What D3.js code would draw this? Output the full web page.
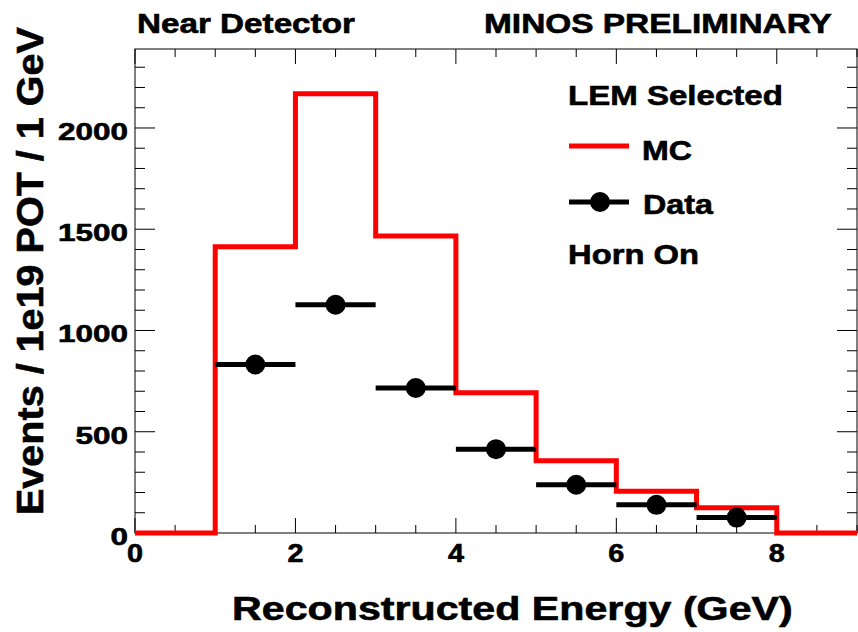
<!DOCTYPE html>
<html>
<head>
<meta charset="utf-8">
<script src="https://cdn.jsdelivr.net/npm/d3@7"></script>
<style>
  html, body { margin: 0; padding: 0; background: #fff; }
  svg { display: block; }
  text { font-family: "Liberation Sans", Arial, Helvetica, sans-serif; font-weight: bold; fill: #000;
         stroke: #000; stroke-width: 0.6px; }
</style>
</head>
<body>
<script>
// Bin edges of the reconstructed energy histogram (GeV)
const binEdges = [0, 1, 2, 3, 4, 5, 6, 7, 8, 9];
// Monte Carlo prediction per bin (events / 1e19 POT / 1 GeV)
const mcValues = [0, 1413, 2169, 1466, 693, 357, 206, 125, 0];
// Data points: bin centres and measured values
const dataX = [1.5, 2.5, 3.5, 4.5, 5.5, 6.5, 7.5];
const dataValues = [832, 1127, 716, 414, 238, 139, 76];
// Axis ticks
const xMajorTicks = [0, 2, 4, 6, 8];
const yMajorTicks = [0, 500, 1000, 1500, 2000];
const legendItems = ["MC", "Data"];

const W = 858, H = 632;
const margin = { left: 135, right: 1, top: 49, bottom: 99 };

const svg = d3.select("body").append("svg").attr("width", W).attr("height", H);

const x = d3.scaleLinear().domain([0, 9]).range([margin.left, W - margin.right]);
const y = d3.scaleLinear().domain([0, 2390]).range([H - margin.bottom, margin.top]);

const x0 = x(0), x1 = x(9), y0 = y(0), y1 = y(2390);

// Wide bold lettering: place a label at (px, py) and stretch its glyphs
// horizontally so that it spans the given width.
function label(parent, str, px, py, size, width, anchor = "start", rotate = 0) {
  const t = parent.append("text")
    .attr("font-size", size).attr("text-anchor", anchor).text(str);
  const natural = t.node().getComputedTextLength();
  const s = width / natural;
  t.attr("transform", `translate(${px},${py}) rotate(${rotate}) scale(${s},1)`);
  return t;
}

// Frame
svg.append("rect")
  .attr("x", x0).attr("y", y1).attr("width", x1 - x0).attr("height", y0 - y1)
  .attr("fill", "none").attr("stroke", "#000").attr("stroke-width", 1);

// Ticks on all four sides
const xMinor = d3.range(0, 9.001, 0.5);
const yMinor = d3.range(0, 2390, 100);
const tickG = svg.append("g").attr("stroke", "#000").attr("stroke-width", 1);
xMinor.forEach(v => {
  const major = xMajorTicks.includes(v);
  const len = major ? 15 : 8;
  tickG.append("line").attr("x1", x(v)).attr("x2", x(v)).attr("y1", y0).attr("y2", y0 - len);
  tickG.append("line").attr("x1", x(v)).attr("x2", x(v)).attr("y1", y1).attr("y2", y1 + len);
});
yMinor.forEach(v => {
  const major = v % 500 === 0;
  const len = major ? 20 : 10;
  tickG.append("line").attr("y1", y(v)).attr("y2", y(v)).attr("x1", x0).attr("x2", x0 + len);
  tickG.append("line").attr("y1", y(v)).attr("y2", y(v)).attr("x1", x1).attr("x2", x1 - len);
});

// Tick labels
const tickLabels = svg.append("g");
xMajorTicks.forEach(d => label(tickLabels, String(d), x(d), y0 + 29, 25, 16, "middle"));
yMajorTicks.forEach(d => label(tickLabels, String(d), x0 - 7, y(d) + 12, 24, String(d).length * 17.5, "end"));

// MC histogram as a step outline
const stepPts = [];
mcValues.forEach((v, i) => {
  stepPts.push([binEdges[i], v]);
  stepPts.push([binEdges[i + 1], v]);
});
svg.append("path")
  .attr("d", d3.line().x(d => x(d[0])).y(d => y(d[1]))(stepPts))
  .attr("fill", "none").attr("stroke", "#ff0000").attr("stroke-width", 5)
  .attr("stroke-linejoin", "miter");

// Data points with horizontal bin-width bars
const dataG = svg.append("g");
dataX.forEach((cx, i) => {
  dataG.append("line")
    .attr("x1", x(cx - 0.5)).attr("x2", x(cx + 0.5))
    .attr("y1", y(dataValues[i])).attr("y2", y(dataValues[i]))
    .attr("stroke", "#000").attr("stroke-width", 5);
  dataG.append("circle")
    .attr("cx", x(cx)).attr("cy", y(dataValues[i])).attr("r", 10).attr("fill", "#000");
});

// Legend
const lg = svg.append("g");
label(lg, "LEM Selected", 568, 105, 27, 215);
lg.append("line").attr("x1", 569).attr("x2", 629).attr("y1", 146).attr("y2", 146)
  .attr("stroke", "#ff0000").attr("stroke-width", 5);
label(lg, legendItems[0], 642, 160, 27, 50);
lg.append("line").attr("x1", 569).attr("x2", 629).attr("y1", 202).attr("y2", 202)
  .attr("stroke", "#000").attr("stroke-width", 5);
lg.append("circle").attr("cx", 600).attr("cy", 202).attr("r", 10).attr("fill", "#000");
label(lg, legendItems[1], 643, 214, 27, 70);
label(lg, "Horn On", 568, 264, 27, 131);

// Header labels
label(svg, "Near Detector", 137, 33, 27, 218);
label(svg, "MINOS PRELIMINARY", 484, 33, 27, 348);

// Axis titles
label(svg, "Reconstructed Energy (GeV)", 232, 620, 33, 561);
label(svg, "Events / 1e19 POT / 1 GeV", 43, 515, 37, 488, "start", -90);
</script>
</body>
</html>
